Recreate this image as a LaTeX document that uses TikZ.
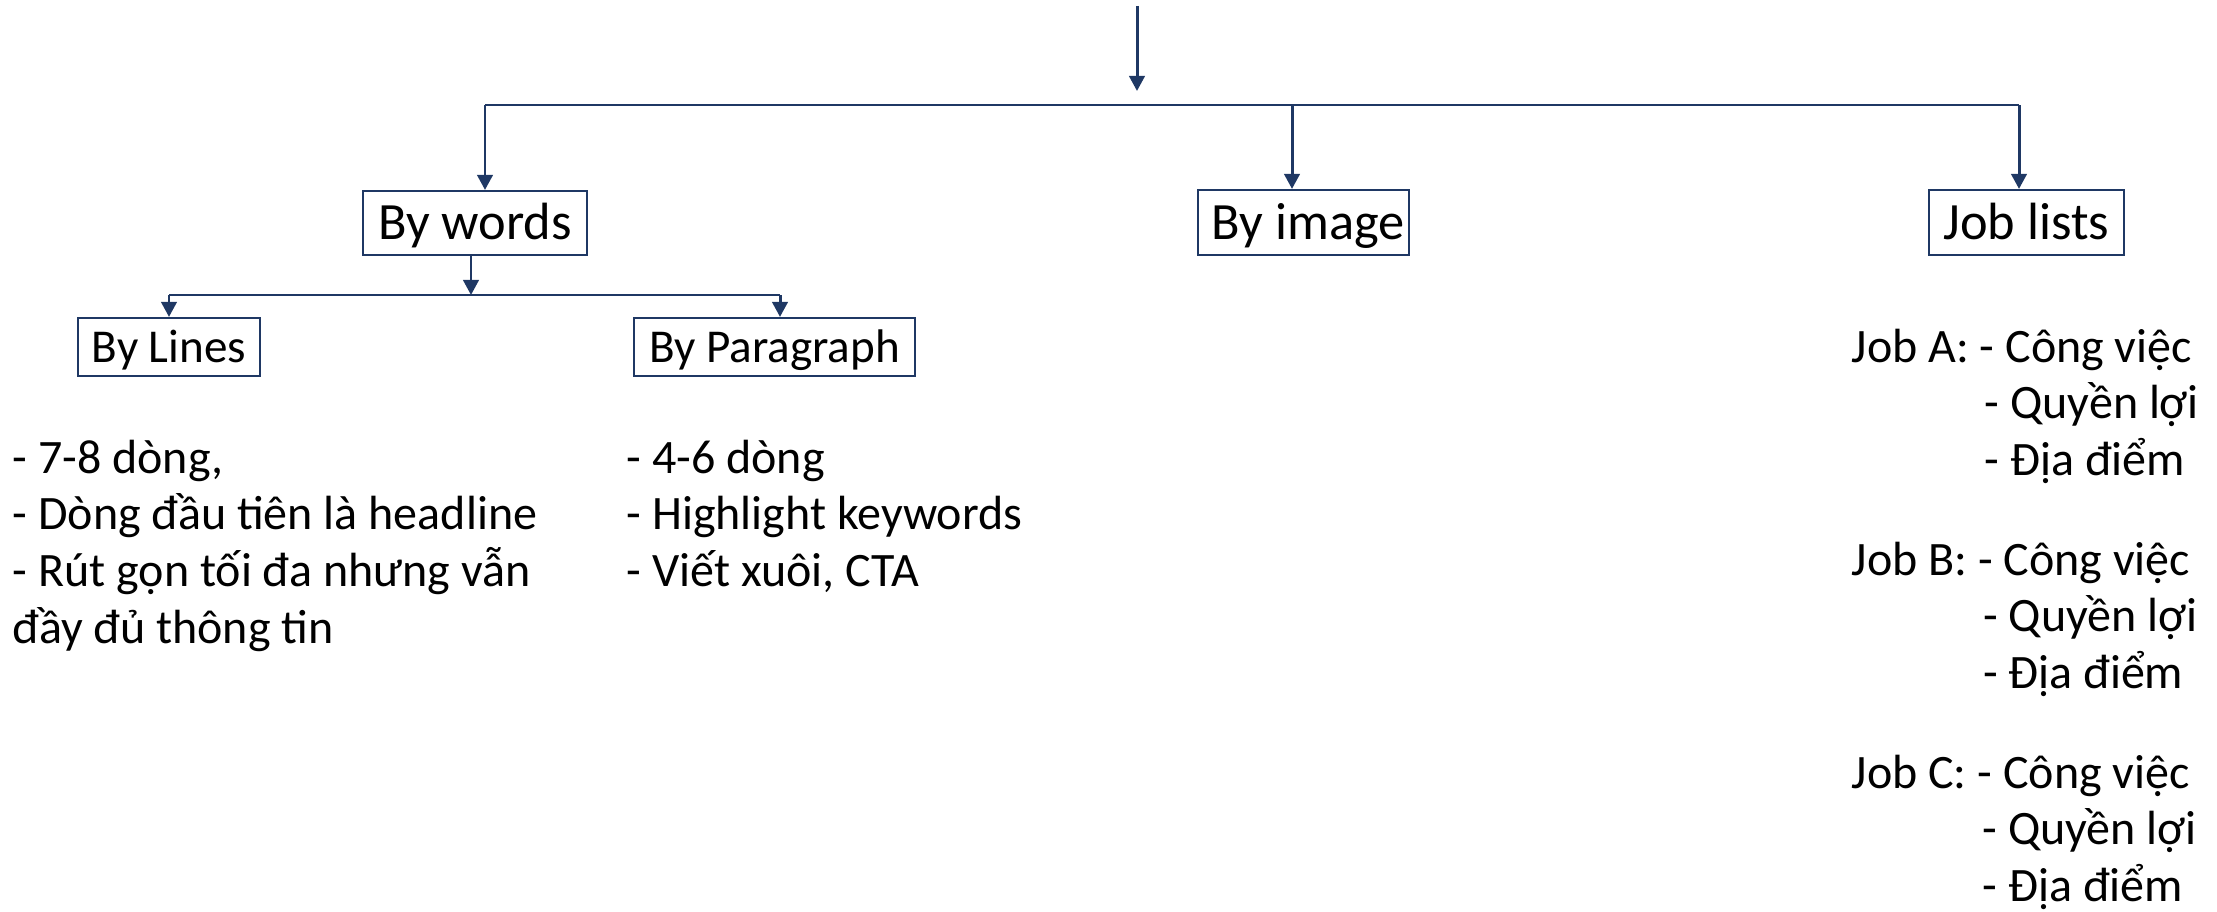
\documentclass[tikz,border=0pt]{standalone}
\usepackage{fontspec}
\setmainfont{Carlito}
\usetikzlibrary{arrows.meta}
\definecolor{navy}{RGB}{31,56,100}
\tikzset{
  conn/.style={draw=navy, line width=0.85pt},
  bar/.style={draw=navy, line width=0.55pt},
  arr/.style={conn, -{Triangle[length=4.3pt,width=4.4pt]}},
  topbox/.style={draw=navy, line width=0.6pt, inner sep=0pt, text height=9.6pt, text depth=0pt,
    font=\fontsize{14.9}{17.8}\selectfont},
  subbox/.style={draw=navy, line width=0.6pt, inner sep=0pt, text height=8.6pt, text depth=0pt,
    font=\fontsize{13.4}{16}\selectfont},
  listtext/.style={inner sep=0pt, anchor=base west, font=\fontsize{13.65}{16.2}\selectfont}
}
\begin{document}
\begin{tikzpicture}[x=0.01cm, y=-0.01cm]
\useasboundingbox (0,0) rectangle (2217,912);
% top-level boxes
\node[topbox, minimum width=2.24cm, minimum height=0.64cm] (words) at (475,223) {By words};
\node[topbox, minimum width=2.11cm, minimum height=0.65cm] (image) at (1303.5,222.5) {\hspace{0.09cm}By image};
\node[topbox, minimum width=1.95cm, minimum height=0.65cm] (jobs) at (2026.5,222.5) {Job lists};
% second-level boxes
\node[subbox, minimum width=1.82cm, minimum height=0.58cm] (lines) at (169,347) {By Lines};
\node[subbox, minimum width=2.81cm, minimum height=0.58cm] (para) at (774.5,347) {By Paragraph};
% coordinates
\coordinate (src) at (1137,6);
\coordinate (srcend) at (1137,91);
\coordinate (hl) at (485,105);
\coordinate (hm) at (1292,105);
\coordinate (hr) at (2019,105);
\coordinate (sl) at (169,295);
\coordinate (sm) at (471,295);
\coordinate (sr) at (780,295);
% connectors
\draw[arr] (src) -- (srcend);
\draw[bar] (hl) -- (hr);
\draw[arr] (hl) -- (hl |- words.north);
\draw[arr] (hm) -- (hm |- image.north);
\draw[arr] (hr) -- (hr |- jobs.north);
\draw[arr] (sm |- words.south) -- (sm);
\draw[bar] (sl) -- (sr);
\draw[arr] (sl) -- (sl |- lines.north);
\draw[arr] (sr) -- (sr |- para.north);
% lists
\node[listtext] (l1) at (12,473) {\begin{tabular}[t]{@{}l@{}}
- 7-8 dòng,\\
- Dòng đầu tiên là headline\\
- Rút gọn tối đa nhưng vẫn\\
đầy đủ thông tin\end{tabular}};
\node[listtext] (l2) at (626,473) {\begin{tabular}[t]{@{}l@{}}
- 4-6 dòng\\
- Highlight keywords\\
- Viết xuôi, CTA\end{tabular}};
\node[listtext] (ja) at (1851,362) {\begin{tabular}[t]{@{}l@{\ }l@{}}
Job A: & - Công việc\\
 & \hspace{0.05cm}- Quyền lợi\\
 & \hspace{0.05cm}- Địa điểm\end{tabular}};
\node[listtext] (jb) at (1851,575) {\begin{tabular}[t]{@{}l@{\ }l@{}}
Job B: & - Công việc\\
 & \hspace{0.05cm}- Quyền lợi\\
 & \hspace{0.05cm}- Địa điểm\end{tabular}};
\node[listtext] (jc) at (1851,788) {\begin{tabular}[t]{@{}l@{\ }l@{}}
Job C: & - Công việc\\
 & \hspace{0.05cm}- Quyền lợi\\
 & \hspace{0.05cm}- Địa điểm\end{tabular}};
\end{tikzpicture}
\end{document}
